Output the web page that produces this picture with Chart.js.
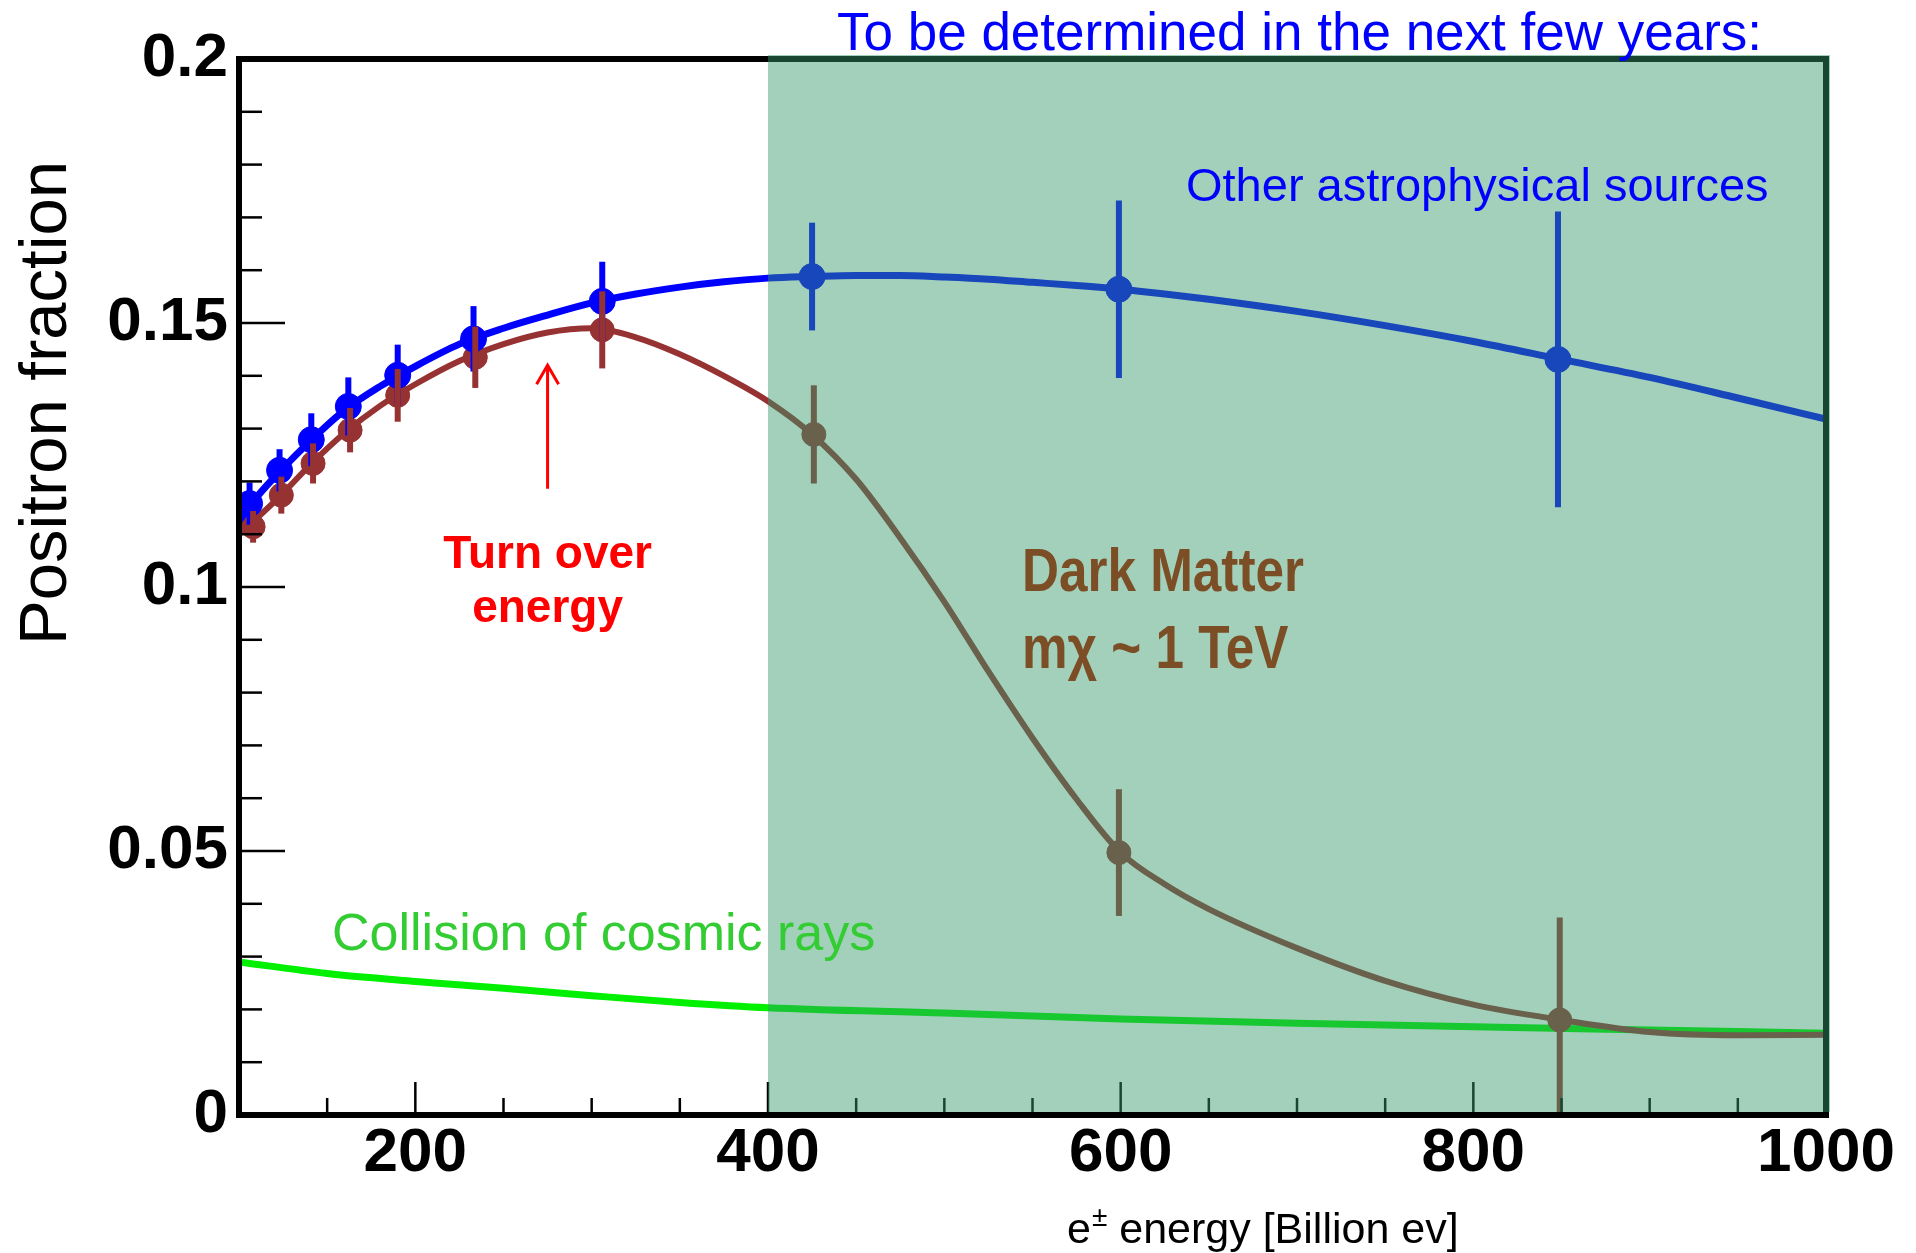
<!DOCTYPE html>
<html>
<head>
<meta charset="utf-8">
<title>Positron fraction</title>
<script src="https://cdn.jsdelivr.net/npm/chart.js@4.4.0/dist/chart.umd.min.js"></script>
<style>
  html, body { margin: 0; padding: 0; background: #fff; }
  canvas { display: block; }
</style>
</head>
<body>
<canvas id="positronChart" width="1916" height="1253"></canvas>
<script>
// measured points (energy in billion eV -> positron fraction, +/- error)
const blueEnergy = [106, 123, 141, 162, 190, 233, 306, 425, 599, 848];
const blueFraction = [0.1158, 0.1221, 0.1279, 0.1342, 0.1401, 0.1470, 0.1541, 0.1588, 0.1564, 0.1431];
const blueError = [0.004, 0.004, 0.005, 0.0055, 0.0058, 0.0062, 0.0075, 0.0102, 0.0168, 0.028];

const brownEnergy = [108, 124, 142, 163, 190, 234, 306, 426, 599, 849];
const brownFraction = [0.1114, 0.1174, 0.1234, 0.1297, 0.1363, 0.1435, 0.1487, 0.1289, 0.0497, 0.0180];
const brownError = [0.003, 0.0035, 0.0038, 0.0042, 0.005, 0.0058, 0.0073, 0.0093, 0.012, 0.0194];

// model curves
const curveEnergy = [100, 110, 125, 140, 160, 180, 200, 225, 250, 275, 300, 325, 350, 375, 400, 425,
  450, 475, 500, 525, 550, 575, 600, 625, 650, 700, 750, 800, 850, 900, 950, 1000];
const astroCurve = [0.1125, 0.1170, 0.1225, 0.1275, 0.1335, 0.1380, 0.1418, 0.1460, 0.1490, 0.1515,
  0.1538, 0.1555, 0.1568, 0.1578, 0.1585, 0.1588, 0.1590, 0.1590, 0.1587, 0.1583, 0.1577, 0.1571,
  0.1564, 0.1555, 0.1545, 0.1522, 0.1495, 0.1465, 0.1431, 0.1397, 0.1358, 0.1318];
const darkMatterCurve = [0.1100, 0.1130, 0.1178, 0.1230, 0.1292, 0.1343, 0.1384, 0.1428, 0.1460, 0.1482,
  0.1490, 0.1473, 0.1441, 0.1400, 0.1352, 0.1289, 0.1204, 0.1093, 0.0972, 0.0840, 0.0714, 0.0598,
  0.0497, 0.0437, 0.0390, 0.0316, 0.0254, 0.0209, 0.0180, 0.0157, 0.0151, 0.0152];

const cosmicEnergy = [100, 150, 200, 250, 300, 350, 400, 500, 600, 700, 800, 900, 1000];
const cosmicCurve = [0.0290, 0.0268, 0.0253, 0.0240, 0.0226, 0.0213, 0.0203, 0.0193, 0.0182, 0.0174, 0.0167, 0.0161, 0.0155];

// axes
const energyTicks = [150, 200, 250, 300, 350, 400, 450, 500, 550, 600, 650, 700, 750, 800, 850, 900, 950, 1000];
const energyLabels = [200, 400, 600, 800, 1000];
const fractionTicks = [0, 0.01, 0.02, 0.03, 0.04, 0.05, 0.06, 0.07, 0.08, 0.09, 0.1, 0.11, 0.12, 0.13, 0.14,
  0.15, 0.16, 0.17, 0.18, 0.19, 0.2];
const fractionLabels = [0, 0.05, 0.1, 0.15, 0.2];

// annotations
const shadeFrom = 400;
const arrowEnergy = 275;
const arrowFrom = 0.1186;
const arrowTo = 0.142;

const FONT = '"Liberation Sans", Arial, Helvetica, sans-serif';
const BLUE = '#0000ff';
const BROWN = '#963232';
const GREEN = '#00f000';

function pts(xs, ys) {
  return xs.map((x, i) => ({ x: x, y: ys[i] }));
}

function drawErrors(ctx, xs, ys, vals, errs, energies, color) {
  ctx.strokeStyle = color;
  ctx.lineWidth = 6;
  energies.forEach((e, i) => {
    const px = xs.getPixelForValue(e);
    ctx.beginPath();
    ctx.moveTo(px, ys.getPixelForValue(vals[i] - errs[i]));
    ctx.lineTo(px, ys.getPixelForValue(vals[i] + errs[i]));
    ctx.stroke();
  });
}

const decorations = {
  id: 'decorations',
  beforeDraw(chart) {
    const ctx = chart.ctx;
    ctx.save();
    ctx.fillStyle = '#fff';
    ctx.fillRect(0, 0, chart.width, chart.height);
    ctx.restore();
  },
  afterDatasetsDraw(chart) {
    const { ctx, chartArea: a, scales: { x, y } } = chart;

    ctx.save();
    ctx.beginPath();
    ctx.rect(a.left, a.top, a.width, a.height);
    ctx.clip();
    drawErrors(ctx, x, y, blueFraction, blueError, blueEnergy, BLUE);
    drawErrors(ctx, x, y, brownFraction, brownError, brownEnergy, BROWN);
    ctx.restore();

    // frame and inward ticks
    ctx.save();
    ctx.strokeStyle = '#000';
    ctx.lineWidth = 6;
    ctx.strokeRect(a.left, a.top, a.width, a.height);
    ctx.lineWidth = 2.5;
    energyTicks.forEach(v => {
      const px = x.getPixelForValue(v);
      const len = energyLabels.includes(v) ? 33 : 17;
      ctx.beginPath();
      ctx.moveTo(px, a.bottom);
      ctx.lineTo(px, a.bottom - len);
      ctx.stroke();
    });
    fractionTicks.forEach(v => {
      const py = y.getPixelForValue(v);
      const len = fractionLabels.includes(v) ? 46 : 23;
      ctx.beginPath();
      ctx.moveTo(a.left, py);
      ctx.lineTo(a.left + len, py);
      ctx.stroke();
    });

    // "next few years" band
    const sx = x.getPixelForValue(shadeFrom);
    ctx.fillStyle = 'rgba(52, 153, 106, 0.46)';
    ctx.fillRect(sx, a.top - 4, a.right + 4 - sx, a.bottom - 3 - (a.top - 4));
    ctx.restore();
  },
  afterDraw(chart) {
    const { ctx, scales: { x, y } } = chart;
    ctx.save();
    ctx.textAlign = 'left';
    ctx.textBaseline = 'alphabetic';

    ctx.fillStyle = BLUE;
    ctx.font = '53px ' + FONT;
    ctx.fillText('To be determined in the next few years:', 837, 50);
    ctx.font = '47px ' + FONT;
    ctx.fillText('Other astrophysical sources', 1186, 201);

    ctx.fillStyle = '#33cc33';
    ctx.font = '52px ' + FONT;
    ctx.fillText('Collision of cosmic rays', 332, 950);

    // turn over arrow
    const ax = x.getPixelForValue(arrowEnergy);
    const ay0 = y.getPixelForValue(arrowFrom);
    const ay1 = y.getPixelForValue(arrowTo);
    ctx.strokeStyle = '#ff0000';
    ctx.lineWidth = 3;
    ctx.beginPath();
    ctx.moveTo(ax, ay0);
    ctx.lineTo(ax, ay1);
    ctx.moveTo(ax - 11, ay1 + 19);
    ctx.lineTo(ax, ay1);
    ctx.lineTo(ax + 11, ay1 + 19);
    ctx.stroke();

    ctx.fillStyle = '#ff0000';
    ctx.font = 'bold 46px ' + FONT;
    ctx.textAlign = 'center';
    ctx.fillText('Turn over', ax, 568);
    ctx.fillText('energy', ax, 622);

    ctx.fillStyle = '#7c4e26';
    ctx.font = 'bold 61px ' + FONT;
    ctx.textAlign = 'left';
    ctx.save();
    ctx.translate(1022, 591);
    ctx.scale(0.84, 1);
    ctx.fillText('Dark Matter', 0, 0);
    ctx.fillText('m\u03C7 ~ 1 TeV', 0, 77);
    ctx.restore();

    // axis titles
    ctx.fillStyle = '#000';
    ctx.save();
    ctx.translate(66, 403);
    ctx.rotate(-Math.PI / 2);
    ctx.textAlign = 'center';
    ctx.font = '67px ' + FONT;
    ctx.fillText('Positron fraction', 0, 0);
    ctx.restore();

    ctx.textAlign = 'left';
    let tx = 1067;
    ctx.font = '43px ' + FONT;
    ctx.fillText('e', tx, 1243);
    tx += ctx.measureText('e').width + 1;
    ctx.font = '28px ' + FONT;
    ctx.fillText('\u00B1', tx, 1226);
    tx += ctx.measureText('\u00B1').width;
    ctx.font = '43px ' + FONT;
    ctx.fillText(' energy [Billion ev]', tx, 1243);
    ctx.restore();
  }
};

const tickFont = { family: FONT, size: 62, weight: 'bold' };

const ctx = document.getElementById('positronChart').getContext('2d');
const positronChart = new Chart(ctx, {
  type: 'scatter',
  data: {
    datasets: [
      { label: 'Other astrophysical sources (data)', data: pts(blueEnergy, blueFraction),
        backgroundColor: BLUE, borderColor: BLUE, pointRadius: 13, pointHoverRadius: 13 },
      { label: 'Other astrophysical sources', data: pts(curveEnergy, astroCurve), showLine: true,
        borderColor: BLUE, borderWidth: 7, pointRadius: 0, cubicInterpolationMode: 'monotone' },
      { label: 'Dark Matter (data)', data: pts(brownEnergy, brownFraction),
        backgroundColor: BROWN, borderColor: BROWN, pointRadius: 12, pointHoverRadius: 12 },
      { label: 'Dark Matter', data: pts(curveEnergy, darkMatterCurve), showLine: true,
        borderColor: BROWN, borderWidth: 6, pointRadius: 0, cubicInterpolationMode: 'monotone' },
      { label: 'Collision of cosmic rays', data: pts(cosmicEnergy, cosmicCurve), showLine: true,
        borderColor: GREEN, borderWidth: 7, pointRadius: 0, cubicInterpolationMode: 'monotone' }
    ]
  },
  options: {
    responsive: false,
    animation: false,
    devicePixelRatio: 1,
    events: [],
    layout: { padding: { left: 0, right: 90, top: 59, bottom: 0 } },
    plugins: { legend: { display: false }, tooltip: { enabled: false } },
    scales: {
      x: {
        type: 'linear', min: 100, max: 1000,
        afterBuildTicks: s => { s.ticks = energyTicks.map(v => ({ value: v })); },
        afterFit: s => { s.height = 138; },
        grid: { display: false, drawTicks: false },
        border: { display: false },
        ticks: {
          autoSkip: false, maxRotation: 0, padding: 2, color: '#000', font: tickFont,
          callback: v => energyLabels.includes(v) ? String(v) : ''
        }
      },
      y: {
        type: 'linear', min: 0, max: 0.2,
        afterBuildTicks: s => { s.ticks = fractionTicks.map(v => ({ value: v })); },
        afterFit: s => { s.width = 239; },
        grid: { display: false, drawTicks: false },
        border: { display: false },
        ticks: {
          autoSkip: false, padding: 11, color: '#000', font: tickFont,
          callback: v => fractionLabels.includes(v) ? String(v) : ''
        }
      }
    }
  },
  plugins: [decorations]
});
</script>
</body>
</html>
